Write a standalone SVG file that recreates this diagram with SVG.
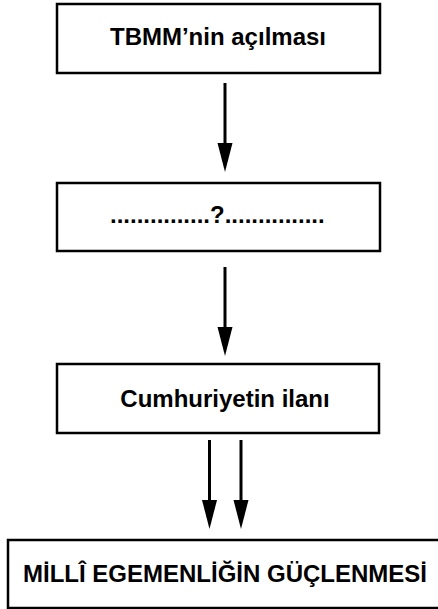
<svg xmlns="http://www.w3.org/2000/svg" width="438" height="609" viewBox="0 0 438 609">
  <style>
    .box { fill: #ffffff; stroke: #000000; stroke-width: 2.5; }
    .lbl { font-family: "Liberation Sans", Arial, sans-serif; font-weight: bold; font-size: 24px; fill: #000000; }
    .conn { stroke: #000000; stroke-width: 3; fill: none; }
  </style>
  <defs>
    <marker id="arrow" markerUnits="userSpaceOnUse" viewBox="0 -8 30 16" refX="1" refY="0" markerWidth="30" markerHeight="16" orient="auto">
      <path d="M0,-7.5 L29,0 L0,7.5 Z" fill="#000000"/>
    </marker>
  </defs>
  <rect width="438" height="609" fill="#ffffff"/>
  <g id="connectors">
    <path class="conn" d="M225,83 L225,144" marker-end="url(#arrow)"/>
    <path class="conn" d="M225,267 L225,328" marker-end="url(#arrow)"/>
    <path class="conn" d="M209.5,440 L209.5,501" marker-end="url(#arrow)"/>
    <path class="conn" d="M241,440 L241,501" marker-end="url(#arrow)"/>
  </g>
  <g id="node-tbmm">
    <rect class="box" x="57" y="4" width="323" height="69"/>
    <text class="lbl" x="218" y="45" text-anchor="middle">TBMM’nin açılması</text>
  </g>
  <g id="node-unknown">
    <rect class="box" x="57" y="183" width="323" height="68"/>
    <text class="lbl" x="110" y="223">...............?...............</text>
  </g>
  <g id="node-cumhuriyet">
    <rect class="box" x="57" y="364" width="322" height="69"/>
    <text class="lbl" x="225" y="407" text-anchor="middle">Cumhuriyetin ilanı</text>
  </g>
  <g id="node-egemenlik">
    <rect class="box" x="8" y="540" width="432" height="68"/>
    <text class="lbl" x="225" y="582" text-anchor="middle">MİLLÎ EGEMENLİĞİN GÜÇLENMESİ</text>
  </g>
</svg>
